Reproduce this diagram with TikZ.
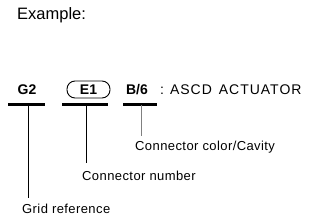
\documentclass[tikz,border=0pt]{standalone}
\usepackage{fontspec}
\setmainfont{Liberation Sans}
\newfontfamily\spacedfont[LetterSpace=3.2]{Liberation Sans}
\newfontfamily\widefont[LetterSpace=7]{Liberation Sans}
\begin{document}
\begin{tikzpicture}[x=1pt,y=-1pt,
  lbl/.style={inner sep=0pt,anchor=base west,font=\spacedfont\fontsize{13}{13}\selectfont},
  code/.style={inner sep=0pt,anchor=base,font=\fontsize{14}{14}\selectfont\bfseries},
  bar/.style={line width=3pt},
  lead/.style={line width=0.8pt}]
\useasboundingbox (0,0) rectangle (310,222);
\node[inner sep=0pt,anchor=base west,font=\fontsize{16.5}{16.5}\selectfont] (example) at (17,20) {Example:};
\node[code] (g2) at (27,94) {G2};
\node[code,draw,line width=0.9pt,rounded corners=8pt,minimum width=43pt,minimum height=17pt,anchor=center] (e1) at (88.5,89.5) {E1};
\node[code] (b6) at (137,94) {B/6};
\node[inner sep=0pt,anchor=base west,font=\widefont\fontsize{14}{14}\selectfont] (desc) at (160,94) {:\hspace{6pt}ASCD\hspace{7pt}ACTUATOR};
\coordinate (b1l) at (8,104.5); \coordinate (b1r) at (45,104.5);
\coordinate (b2l) at (62,104.5); \coordinate (b2r) at (108,104.5);
\coordinate (b3l) at (123,104.5); \coordinate (b3r) at (157,104.5);
\draw[bar] (b1l) -- (b1r);
\draw[bar] (b2l) -- (b2r);
\draw[bar] (b3l) -- (b3r);
\node[lbl] (cav) at (135,150) {Connector color/Cavity};
\node[lbl] (num) at (82,180) {Connector number};
\node[lbl] (grid) at (22,213) {Grid reference};
\coordinate (t1) at (28,104.5);
\coordinate (t2) at (86,104.5);
\coordinate (t3) at (141,104.5);
\draw[lead] (t1) -- ([yshift=5pt]t1 |- grid.north);
\draw[lead] (t2) -- ([yshift=7pt]t2 |- num.north);
\draw[lead,gray,line width=0.6pt] (t3) -- ([yshift=4pt]t3 |- cav.north);
\end{tikzpicture}
\end{document}
